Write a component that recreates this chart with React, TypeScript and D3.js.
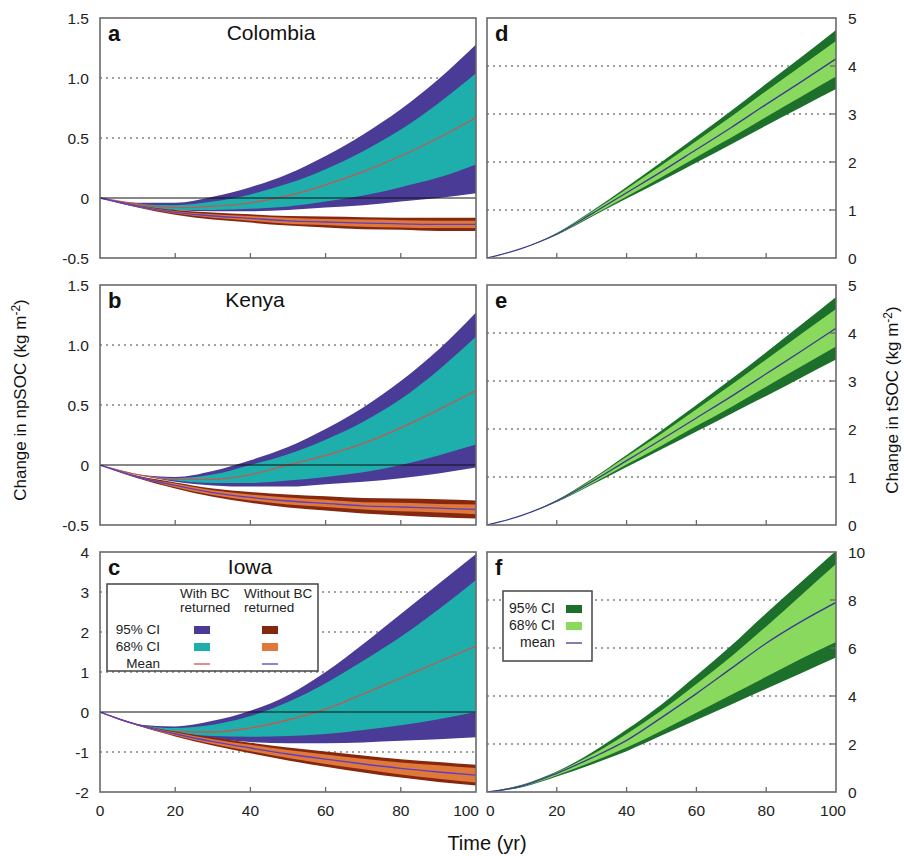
import React from 'react';
import * as d3 from 'd3';

const years = [0, 10, 20, 30, 40, 50, 60, 70, 80, 90, 100];

// a: Colombia, change in npSOC
const aWithUp95 = [0, -0.04, -0.04, 0.01, 0.09, 0.2, 0.35, 0.53, 0.74, 0.99, 1.28];
const aWithUp68 = [0, -0.05, -0.06, -0.03, 0.03, 0.12, 0.24, 0.39, 0.57, 0.79, 1.04];
const aWithMean = [0, -0.05, -0.08, -0.07, -0.04, 0.02, 0.11, 0.22, 0.35, 0.5, 0.67];
const aWithLo68 = [0, -0.06, -0.1, -0.1, -0.09, -0.07, -0.03, 0.02, 0.09, 0.17, 0.28];
const aWithLo95 = [0, -0.06, -0.1, -0.11, -0.11, -0.1, -0.08, -0.06, -0.03, 0, 0.04];
const aNoUp95 = [0, -0.06, -0.1, -0.12, -0.135, -0.15, -0.155, -0.16, -0.165, -0.165, -0.165];
const aNoUp68 = [0, -0.065, -0.11, -0.135, -0.15, -0.165, -0.175, -0.18, -0.185, -0.19, -0.19];
const aNoMean = [0, -0.07, -0.12, -0.15, -0.17, -0.19, -0.2, -0.21, -0.215, -0.22, -0.22];
const aNoLo68 = [0, -0.075, -0.13, -0.165, -0.19, -0.215, -0.225, -0.24, -0.245, -0.25, -0.25];
const aNoLo95 = [0, -0.08, -0.14, -0.18, -0.205, -0.23, -0.245, -0.26, -0.265, -0.275, -0.275];

// b: Kenya, change in npSOC
const bWithUp95 = [0, -0.08, -0.1, -0.05, 0.04, 0.15, 0.3, 0.48, 0.7, 0.96, 1.27];
const bWithUp68 = [0, -0.08, -0.11, -0.08, 0.0, 0.09, 0.21, 0.36, 0.55, 0.79, 1.07];
const bWithMean = [0, -0.08, -0.12, -0.12, -0.08, 0.0, 0.08, 0.18, 0.31, 0.46, 0.62];
const bWithLo68 = [0, -0.08, -0.13, -0.15, -0.15, -0.13, -0.1, -0.06, 0.0, 0.08, 0.17];
const bWithLo95 = [0, -0.08, -0.14, -0.17, -0.18, -0.18, -0.16, -0.14, -0.11, -0.07, -0.02];
const bNoUp95 = [0, -0.09, -0.145, -0.195, -0.225, -0.245, -0.26, -0.275, -0.28, -0.285, -0.295];
const bNoUp68 = [0, -0.095, -0.155, -0.21, -0.245, -0.27, -0.29, -0.31, -0.315, -0.325, -0.33];
const bNoMean = [0, -0.1, -0.17, -0.23, -0.27, -0.3, -0.32, -0.34, -0.35, -0.36, -0.37];
const bNoLo68 = [0, -0.105, -0.185, -0.25, -0.295, -0.33, -0.35, -0.37, -0.385, -0.395, -0.41];
const bNoLo95 = [0, -0.11, -0.195, -0.265, -0.315, -0.355, -0.38, -0.405, -0.42, -0.435, -0.445];

// c: Iowa, change in npSOC
const cWithUp95 = [0, -0.31, -0.36, -0.22, 0.03, 0.42, 1.0, 1.7, 2.45, 3.2, 3.95];
const cWithUp68 = [0, -0.31, -0.4, -0.32, -0.1, 0.25, 0.72, 1.28, 1.88, 2.56, 3.3];
const cWithMean = [0, -0.32, -0.49, -0.5, -0.4, -0.2, 0.07, 0.45, 0.85, 1.25, 1.65];
const cWithLo68 = [0, -0.32, -0.52, -0.6, -0.62, -0.6, -0.55, -0.45, -0.33, -0.18, 0.0];
const cWithLo95 = [0, -0.33, -0.55, -0.67, -0.75, -0.78, -0.78, -0.76, -0.72, -0.68, -0.63];
const cNoUp95 = [0, -0.3, -0.49, -0.64, -0.77, -0.89, -0.99, -1.09, -1.18, -1.25, -1.32];
const cNoUp68 = [0, -0.31, -0.51, -0.68, -0.82, -0.95, -1.06, -1.17, -1.26, -1.33, -1.4];
const cNoMean = [0, -0.32, -0.55, -0.74, -0.9, -1.05, -1.18, -1.3, -1.41, -1.5, -1.58];
const cNoLo68 = [0, -0.33, -0.59, -0.8, -0.98, -1.15, -1.3, -1.43, -1.56, -1.67, -1.76];
const cNoLo95 = [0, -0.34, -0.61, -0.84, -1.03, -1.21, -1.37, -1.51, -1.64, -1.75, -1.84];

// d: Colombia, change in tSOC
const dUp95 = [0, 0.2, 0.52, 0.98, 1.48, 2.0, 2.53, 3.07, 3.63, 4.18, 4.75];
const dUp68 = [0, 0.2, 0.51, 0.96, 1.44, 1.93, 2.44, 2.95, 3.48, 4.0, 4.52];
const dMean = [0, 0.2, 0.5, 0.92, 1.36, 1.8, 2.26, 2.72, 3.2, 3.67, 4.15];
const dLo68 = [0, 0.2, 0.49, 0.88, 1.28, 1.68, 2.1, 2.51, 2.94, 3.36, 3.78];
const dLo95 = [0, 0.2, 0.48, 0.86, 1.24, 1.61, 1.99, 2.37, 2.76, 3.14, 3.52];

// e: Kenya, change in tSOC
const eUp95 = [0, 0.2, 0.52, 0.96, 1.46, 1.97, 2.5, 3.04, 3.6, 4.17, 4.75];
const eUp68 = [0, 0.2, 0.51, 0.94, 1.42, 1.9, 2.41, 2.92, 3.45, 3.98, 4.5];
const eMean = [0, 0.2, 0.5, 0.9, 1.34, 1.78, 2.23, 2.68, 3.15, 3.62, 4.1];
const eLo68 = [0, 0.2, 0.49, 0.86, 1.26, 1.65, 2.06, 2.46, 2.88, 3.3, 3.72];
const eLo95 = [0, 0.2, 0.48, 0.84, 1.21, 1.58, 1.95, 2.32, 2.69, 3.07, 3.45];

// f: Iowa, change in tSOC
const fUp95 = [0, 0.3, 0.85, 1.65, 2.6, 3.65, 4.85, 6.1, 7.45, 8.75, 10.05];
const fUp68 = [0, 0.28, 0.82, 1.55, 2.42, 3.4, 4.5, 5.65, 6.9, 8.2, 9.5];
const fMean = [0, 0.25, 0.78, 1.42, 2.15, 3.1, 4.1, 5.15, 6.2, 7.1, 7.9];
const fLo68 = [0, 0.22, 0.7, 1.25, 1.85, 2.55, 3.3, 4.05, 4.8, 5.55, 6.25];
const fLo95 = [0, 0.2, 0.65, 1.15, 1.7, 2.35, 3.0, 3.65, 4.3, 4.95, 5.6];

const xTicks = [0, 20, 40, 60, 80, 100];

const font = '"Liberation Sans", Arial, Helvetica, sans-serif';
const frameColor = '#6a6a6a';
const purple = '#4a3b96';
const teal = '#1eafad';
const darkRed = '#86280f';
const orange = '#e0783a';
const meanRed = '#c0594f';
const meanBlue = '#5a3fc4';
const darkGreen = '#1d6f2c';
const lightGreen = '#88d95e';
const greenMean = '#3b3b90';

const PH = 240;
const xLeft = d3.scaleLinear().domain([0, 100]).range([100, 476]);
const xRight = d3.scaleLinear().domain([0, 100]).range([487, 836]);
const idx = years.map((_, i) => i);

type BandSet = { up95: number[]; up68: number[]; mean: number[]; lo68: number[]; lo95: number[] };

function bands(x: d3.ScaleLinear<number, number>, y: d3.ScaleLinear<number, number>, s: BandSet,
  c95: string, c68: string, cm: string) {
  const area = (lo: number[], up: number[]) =>
    d3.area<number>().x(i => x(years[i])).y0(i => y(lo[i])).y1(i => y(up[i])).curve(d3.curveMonotoneX)(idx) || '';
  const line = d3.line<number>().x(i => x(years[i])).y(i => y(s.mean[i])).curve(d3.curveMonotoneX)(idx) || '';
  return (
    <g>
      <path d={area(s.lo95, s.up95)} fill={c95} />
      <path d={area(s.lo68, s.up68)} fill={c68} />
      <path d={line} fill="none" stroke={cm} strokeWidth={1.3} />
    </g>
  );
}

type PanelProps = {
  id: string; side: 'left' | 'right'; top: number; domain: [number, number];
  ticks: number[]; fmt: (v: number) => string; grid: number[]; zeroLine?: boolean;
  sets: { s: BandSet; c95: string; c68: string; cm: string }[];
  letter: string; title?: string; titleX?: number; bottom?: boolean;
};

function Panel(p: PanelProps) {
  const x = p.side === 'left' ? xLeft : xRight;
  const y = d3.scaleLinear().domain(p.domain).range([p.top + PH, p.top]);
  const [x0, x1] = x.range();
  // end labels are nudged inward so the two panels' "100" and "0" do not collide
  const labelPos = (t: number): [number, 'start' | 'middle' | 'end'] => {
    if (p.side === 'left' && t === 100) return [x(t) + 3, 'end'];
    if (p.side === 'right' && t === 0) return [x(t) - 1, 'start'];
    if (p.side === 'right' && t === 100) return [x(t) - 3, 'middle'];
    return [x(t), 'middle'];
  };
  return (
    <g>
      <defs>
        <clipPath id={'clip-' + p.id}>
          <rect x={x0} y={p.top} width={x1 - x0} height={PH} />
        </clipPath>
      </defs>
      {p.grid.map(g => (
        <line key={g} x1={x0} x2={x1} y1={y(g)} y2={y(g)} stroke="#444" strokeWidth={1.2} strokeDasharray="2,4" />
      ))}
      <g clipPath={`url(#clip-${p.id})`}>
        {p.sets.map((st, i) => <g key={i}>{bands(x, y, st.s, st.c95, st.c68, st.cm)}</g>)}
      </g>
      {p.zeroLine && <line x1={x0} x2={x1} y1={y(0)} y2={y(0)} stroke="#111" strokeWidth={1.2} />}
      {[20, 40, 60, 80].map(t => (
        <line key={t} x1={x(t)} x2={x(t)} y1={p.top + PH} y2={p.top + PH - 5} stroke={frameColor} strokeWidth={1.3} />
      ))}
      {p.side === 'right' && p.grid.map(g => (
        <line key={'rt' + g} x1={x1} x2={x1 - 6} y1={y(g)} y2={y(g)} stroke={frameColor} strokeWidth={1.3} />
      ))}
      <rect x={x0} y={p.top} width={x1 - x0} height={PH} fill="none" stroke={frameColor} strokeWidth={1.6} />
      {p.ticks.map(t => (
        <text key={'l' + t} x={p.side === 'left' ? 89 : 848} y={y(t)} dy="0.36em"
          textAnchor={p.side === 'left' ? 'end' : 'start'} fontSize={15.5} fill="#222">{p.fmt(t)}</text>
      ))}
      {p.bottom && xTicks.map(t => {
        const [lx, anchor] = labelPos(t);
        return (
          <text key={'x' + t} x={lx} y={p.top + PH + 24} textAnchor={anchor} fontSize={15.5} fill="#222">{t}</text>
        );
      })}
      <text x={x0 + 8} y={p.top + 23} fontSize={22} fontWeight="bold" fill="#111">{p.letter}</text>
      {p.title && <text x={p.titleX} y={p.top + 22} textAnchor="middle" fontSize={21} fill="#111">{p.title}</text>}
    </g>
  );
}

const fmtNp = (v: number) => (v === 0 ? '0' : v.toFixed(1));
const fmtInt = (v: number) => String(v);

export default function App() {
  const withSet = (s: BandSet) => ({ s, c95: purple, c68: teal, cm: meanRed });
  const noSet = (s: BandSet) => ({ s, c95: darkRed, c68: orange, cm: meanBlue });
  const greenSet = (s: BandSet) => ({ s, c95: darkGreen, c68: lightGreen, cm: greenMean });
  const npTicks = [-0.5, 0, 0.5, 1.0, 1.5];
  return (
    <svg width={904} height={856} style={{ display: 'block', position: 'absolute', left: 0, top: 0 }} fontFamily={font}>
      <rect width={904} height={856} fill="#fff" />
      <Panel id="a" side="left" top={18} domain={[-0.5, 1.5]} ticks={npTicks} fmt={fmtNp} grid={[0.5, 1.0]} zeroLine
        sets={[withSet({ up95: aWithUp95, up68: aWithUp68, mean: aWithMean, lo68: aWithLo68, lo95: aWithLo95 }),
          noSet({ up95: aNoUp95, up68: aNoUp68, mean: aNoMean, lo68: aNoLo68, lo95: aNoLo95 })]}
        letter="a" title="Colombia" titleX={271} />
      <Panel id="b" side="left" top={285} domain={[-0.5, 1.5]} ticks={npTicks} fmt={fmtNp} grid={[0.5, 1.0]} zeroLine
        sets={[withSet({ up95: bWithUp95, up68: bWithUp68, mean: bWithMean, lo68: bWithLo68, lo95: bWithLo95 }),
          noSet({ up95: bNoUp95, up68: bNoUp68, mean: bNoMean, lo68: bNoLo68, lo95: bNoLo95 })]}
        letter="b" title="Kenya" titleX={255} />
      <Panel id="c" side="left" top={552} domain={[-2, 4]} ticks={[-2, -1, 0, 1, 2, 3, 4]} fmt={fmtInt} grid={[-1, 1, 2, 3]} zeroLine
        sets={[withSet({ up95: cWithUp95, up68: cWithUp68, mean: cWithMean, lo68: cWithLo68, lo95: cWithLo95 }),
          noSet({ up95: cNoUp95, up68: cNoUp68, mean: cNoMean, lo68: cNoLo68, lo95: cNoLo95 })]}
        letter="c" title="Iowa" titleX={250} bottom />
      <Panel id="d" side="right" top={18} domain={[0, 5]} ticks={[0, 1, 2, 3, 4, 5]} fmt={fmtInt} grid={[1, 2, 3, 4]}
        sets={[greenSet({ up95: dUp95, up68: dUp68, mean: dMean, lo68: dLo68, lo95: dLo95 })]} letter="d" />
      <Panel id="e" side="right" top={285} domain={[0, 5]} ticks={[0, 1, 2, 3, 4, 5]} fmt={fmtInt} grid={[1, 2, 3, 4]}
        sets={[greenSet({ up95: eUp95, up68: eUp68, mean: eMean, lo68: eLo68, lo95: eLo95 })]} letter="e" />
      <Panel id="f" side="right" top={552} domain={[0, 10]} ticks={[0, 2, 4, 6, 8, 10]} fmt={fmtInt} grid={[2, 4, 6, 8]}
        sets={[greenSet({ up95: fUp95, up68: fUp68, mean: fMean, lo68: fLo68, lo95: fLo95 })]} letter="f" bottom />

      {/* legend, panel c */}
      <g fontSize={13.5} fill="#222">
        <rect x={107} y={584} width={211} height={87} fill="#fff" stroke="#444" strokeWidth={1.5} />
        <text x={180} y={598}>With BC</text>
        <text x={180} y={612}>returned</text>
        <text x={244} y={598}>Without BC</text>
        <text x={244} y={612}>returned</text>
        <text x={160} y={634} textAnchor="end">95% CI</text>
        <text x={160} y={651} textAnchor="end">68% CI</text>
        <text x={160} y={668} textAnchor="end">Mean</text>
        <rect x={194} y={626} width={16} height={8} fill={purple} />
        <rect x={194} y={643} width={16} height={8} fill={teal} />
        <line x1={194} x2={210} y1={664} y2={664} stroke={meanRed} strokeWidth={1.3} />
        <rect x={262} y={626} width={16} height={8} fill={darkRed} />
        <rect x={262} y={643} width={16} height={8} fill={orange} />
        <line x1={262} x2={278} y1={664} y2={664} stroke={meanBlue} strokeWidth={1.3} />
      </g>

      {/* legend, panel f */}
      <g fontSize={14} fill="#222">
        <rect x={503} y={591} width={89} height={70} fill="#fff" stroke="#444" strokeWidth={1.5} />
        <text x={555} y={613} textAnchor="end">95% CI</text>
        <text x={555} y={630} textAnchor="end">68% CI</text>
        <text x={555} y={647} textAnchor="end">mean</text>
        <rect x={566} y={605} width={16} height={8} fill={darkGreen} />
        <rect x={566} y={622} width={16} height={8} fill={lightGreen} />
        <line x1={566} x2={582} y1={643} y2={643} stroke={greenMean} strokeWidth={1.3} />
      </g>

      <text x={487} y={850} textAnchor="middle" fontSize={20} fill="#111">Time (yr)</text>
      <text transform="translate(26,400) rotate(-90)" textAnchor="middle" fontSize={17} fill="#111">
        Change in npSOC (kg m<tspan dy={-6} fontSize={12}>-2</tspan><tspan dy={6}>)</tspan>
      </text>
      <text transform="translate(898,400) rotate(-90)" textAnchor="middle" fontSize={17} fill="#111">
        Change in tSOC (kg m<tspan dy={-6} fontSize={12}>-2</tspan><tspan dy={6}>)</tspan>
      </text>
    </svg>
  );
}
